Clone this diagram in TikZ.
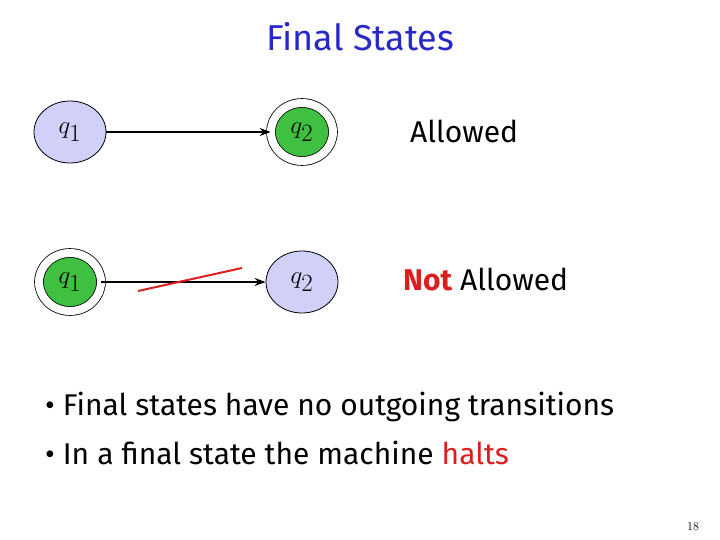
\documentclass[tikz,border=0pt]{standalone}
\usepackage{fontspec}
\setsansfont{Fira Sans}
\usetikzlibrary{arrows.meta,shapes.geometric}
\definecolor{lav}{RGB}{208,208,248}
\definecolor{grn}{RGB}{64,192,64}
\definecolor{ttl}{RGB}{40,40,200}
\definecolor{rd}{RGB}{220,30,30}
\begin{document}
\begin{tikzpicture}[x=1pt,y=-1pt,
  st/.style={draw=black,line width=0.8pt,ellipse,fill=lav,minimum width=72pt,minimum height=62pt,inner sep=0pt,font=\fontsize{34}{34}\selectfont},
  fin/.style={draw=black,line width=0.8pt,ellipse,fill=grn,minimum width=62pt,minimum height=58pt,inner sep=0pt,font=\fontsize{34}{34}\selectfont,
     double=white,double distance=8pt},
  tx/.style={font=\sffamily\fontsize{30}{34}\selectfont,anchor=west,inner sep=0pt},
  arr/.style={-{Stealth[length=11pt,width=8pt]},line width=1.4pt}]
\useasboundingbox (0,0) rectangle (720,540);
\node[font=\sffamily\fontsize{36}{40}\selectfont,text=ttl] (t) at (360,37) {Final States};
\node[st] (a1) at (70,132) {$q_1$};
\node[fin] (a2) at (302,132) {$q_2$};
\draw[arr] (a1) -- (a2);
\node[tx] (al) at (410,131) {Allowed};
\node[fin] (b1) at (70,282) {$q_1$};
\node[st] (b2) at (302,282) {$q_2$};
\draw[arr] (b1) -- (b2);
\coordinate (r1) at (138,291); \coordinate (r2) at (242,268);
\draw[rd,line width=2pt] (r1) -- (r2);
\node[tx] (na) at (403,280) {\textcolor{rd}{\bfseries Not} Allowed};
\node[tx] (l1) at (45,407) {• Final states have no outgoing transitions};
\node[tx] (l2) at (45,453) {• In a final state the machine \textcolor{rd}{halts}};
\node[font=\fontsize{12}{12}\selectfont] (n) at (693,527) {18};
\end{tikzpicture}
\end{document}
